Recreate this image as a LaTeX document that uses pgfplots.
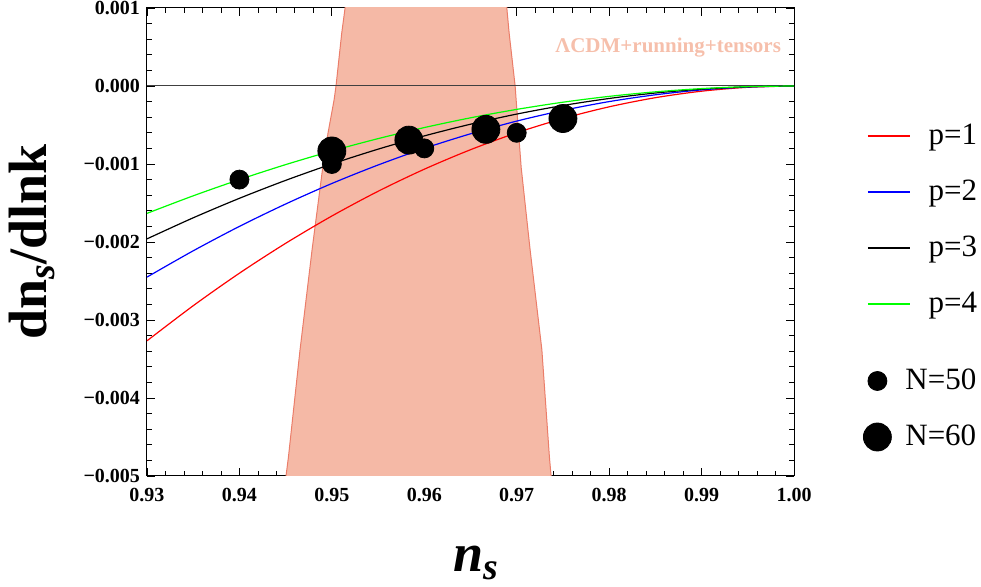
\documentclass[border=0pt]{standalone}
\usepackage{fontspec}
\setmainfont{Liberation Serif}
\usepackage{pgfplots}
\pgfplotsset{compat=1.18}
\definecolor{Band}{HTML}{F5B9A6}
\definecolor{BandEdge}{HTML}{EB7D69}
\definecolor{Note}{HTML}{F6BFAB}
\definecolor{Pgreen}{HTML}{00FF00}
\definecolor{Pred}{HTML}{FF0000}
\definecolor{Pblue}{HTML}{0000FF}
\pgfplotsset{
  frame/.style={
    scale only axis, width=323.5pt, height=234pt,
    xmin=0.93, xmax=1.0, ymin=-0.005, ymax=0.001,
  },
  % one key entry per axis, placed by hand
  keyat/.style={
    frame, hide axis,
    legend style={at={(axis description cs:#1)}, draw=none, fill=none, anchor=west,
      font=\fontsize{15.5}{18}\selectfont, inner sep=0pt,
      nodes={inner sep=0pt}},
    legend cell align=left,
  },
  linekey/.style={keyat={#1}, legend style={column sep=9pt},
    legend image code/.code={\draw[##1] (0pt,0pt) -- (21pt,0pt);}},
  dotkey/.style={keyat={#1},
    legend image code/.code={\draw[##1] plot coordinates {(0pt,0pt)};}},
}
\begin{document}
\begin{tikzpicture}
\useasboundingbox (-73.5pt,-55.5pt) rectangle (417pt,238pt);
\begin{axis}[
  frame,
  scaled x ticks=false, scaled y ticks=false,
  xtick={0.93,0.94,0.95,0.96,0.97,0.98,0.99,1.00},
  xticklabels={0.93,0.94,0.95,0.96,0.97,0.98,0.99,1.00},
  ytick={-0.005,-0.004,-0.003,-0.002,-0.001,0,0.001},
  yticklabels={−0.005,−0.004,−0.003,−0.002,−0.001,0.000,0.001},
  minor x tick num=4, minor y tick num=4,
  major tick length=4pt, minor tick length=2.5pt,
  tick style={black, line width=0.4pt},
  axis line style={black, line width=0.5pt},
  ticklabel style={font=\bfseries\fontsize{10}{12}\selectfont},
  xticklabel style={yshift=-2.5pt},
  xlabel={\bfseries\itshape n\textsubscript{s}},
  xlabel style={font=\fontsize{27}{30}\selectfont, at={(axis description cs:0.5,0)}, anchor=base, yshift=-48pt, xshift=3pt},
  ylabel={\bfseries dn\textsubscript{\itshape s}/dlnk},
  ylabel style={font=\fontsize{27}{30}\selectfont, at={(axis description cs:-0.1777,0.5)}, anchor=center},
]
% allowed region (Lambda CDM + running + tensors)
\addplot[fill=Band, draw=BandEdge, line width=0.5pt] coordinates {
  (0.94490,-0.0052) (0.94504,-0.005) (0.94530,-0.00476) (0.94656,-0.00338)
  (0.94786,-0.0021) (0.94902,-0.00104) (0.94959,-0.0006) (0.95024,-0.00018)
  (0.95045,0) (0.95107,0.00068) (0.95143,0.001) (0.95150,0.0012)
  (0.96880,0.0012) (0.96893,0.001) (0.96918,0.00068) (0.96983,0)
  (0.96994,-0.00018) (0.97048,-0.00104) (0.97145,-0.0021) (0.97272,-0.00338)
  (0.97354,-0.00476) (0.97372,-0.005) (0.97380,-0.0052)
};
\addplot[black!75, line width=0.5pt] coordinates {(0.93,0) (1.0,0)};
% running for p = 1..4
\addplot[Pred, line width=0.6pt, smooth] coordinates {
  (0.930,-0.003267) (0.935,-0.002817) (0.940,-0.002400) (0.945,-0.002017)
  (0.950,-0.001667) (0.955,-0.001350) (0.960,-0.001067) (0.965,-0.000817)
  (0.970,-0.000600) (0.975,-0.000417) (0.980,-0.000267) (0.985,-0.000150)
  (0.990,-0.0000667) (0.995,-0.0000167) (1.000,0)
};
\addplot[Pblue, line width=0.6pt, smooth] coordinates {
  (0.930,-0.002450) (0.935,-0.002113) (0.940,-0.001800) (0.945,-0.001513)
  (0.950,-0.001250) (0.955,-0.001013) (0.960,-0.000800) (0.965,-0.000613)
  (0.970,-0.000450) (0.975,-0.000313) (0.980,-0.000200) (0.985,-0.000113)
  (0.990,-0.000050) (0.995,-0.0000125) (1.000,0)
};
\addplot[black, line width=0.6pt, smooth] coordinates {
  (0.930,-0.001960) (0.935,-0.001690) (0.940,-0.001440) (0.945,-0.001210)
  (0.950,-0.001000) (0.955,-0.000810) (0.960,-0.000640) (0.965,-0.000490)
  (0.970,-0.000360) (0.975,-0.000250) (0.980,-0.000160) (0.985,-0.000090)
  (0.990,-0.000040) (0.995,-0.000010) (1.000,0)
};
\addplot[Pgreen, line width=0.6pt, smooth] coordinates {
  (0.930,-0.001633) (0.935,-0.001408) (0.940,-0.001200) (0.945,-0.001008)
  (0.950,-0.000833) (0.955,-0.000675) (0.960,-0.000533) (0.965,-0.000408)
  (0.970,-0.000300) (0.975,-0.000208) (0.980,-0.000133) (0.985,-0.000075)
  (0.990,-0.0000333) (0.995,-0.0000083) (1.000,0)
};
% N = 50
\addplot[only marks, mark=*, mark size=4.75pt, black] coordinates {
  (0.94,-0.0012) (0.95,-0.001) (0.96,-0.0008) (0.97,-0.0006)
};
% N = 60
\addplot[only marks, mark=*, mark size=7pt, black] coordinates {
  (0.95,-0.000833) (0.958333,-0.000694) (0.966667,-0.000556) (0.975,-0.000417)
};
\node[text=Note, font=\bfseries\fontsize{10.5}{12}\selectfont] at (axis cs:0.98638,0.000487) {ΛCDM+running+tensors};
\end{axis}
% key, one entry per axis
\begin{axis}[linekey={1.1128,0.7265}]
\addlegendimage{draw=Pred, line width=0.6pt}
\addlegendentry{p=1}
\end{axis}
\begin{axis}[linekey={1.1128,0.6068}]
\addlegendimage{draw=Pblue, line width=0.6pt}
\addlegendentry{p=2}
\end{axis}
\begin{axis}[linekey={1.1128,0.4872}]
\addlegendimage{draw=black, line width=0.6pt}
\addlegendentry{p=3}
\end{axis}
\begin{axis}[linekey={1.1128,0.3675}]
\addlegendimage{draw=Pgreen, line width=0.6pt}
\addlegendentry{p=4}
\end{axis}
\begin{axis}[dotkey={1.1136,0.2030}, legend style={column sep=9.25pt}]
\addlegendimage{only marks, mark=*, mark size=4.75pt, black}
\addlegendentry{N=50}
\end{axis}
\begin{axis}[dotkey={1.1066,0.0833}, legend style={column sep=7pt}]
\addlegendimage{only marks, mark=*, mark size=7pt, black}
\addlegendentry{N=60}
\end{axis}
\end{tikzpicture}
\end{document}
